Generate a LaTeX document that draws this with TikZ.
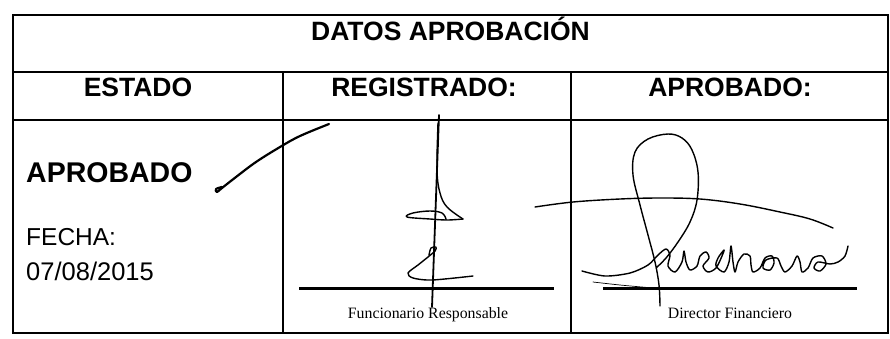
\documentclass[tikz,border=0pt]{standalone}
\usepackage{fontspec}
\setmainfont{Liberation Serif}
\newfontfamily\arialfont{Liberation Sans}
\newfontfamily\timesfont{Liberation Serif}
\usetikzlibrary{positioning}

\begin{document}
\begin{tikzpicture}[
		x=1pt, y=-1pt,
		grille/.style={line width=2.6pt},
		titre/.style={font=\arialfont\bfseries\fontsize{26.5}{30}\selectfont, inner sep=0pt, anchor=base},
		texte/.style={font=\arialfont\fontsize{24.5}{28}\selectfont, inner sep=0pt, anchor=base west},
		pied/.style={font=\timesfont\fontsize{15.8}{18}\selectfont, inner sep=0pt, anchor=base},
		ligne/.style={line width=3pt},
		firma/.style={line width=1.4pt, line cap=round, line join=round}
		]
		\useasboundingbox (0,0) rectangle (890,338);
	
		% --- Tableau ---
		\draw[grille] (13,15) rectangle (888,333);
		\draw[grille] (13,72) -- (888,72);
		\draw[grille] (13,120) -- (888,120);
		\draw[grille] (283,72) -- (283,333);
		\draw[grille] (571,72) -- (571,333);
	
		% --- En-tetes ---
		\node[titre] (datos) at (450.5,40) {DATOS APROBACIÓN};
		\node[titre] (estado) at (138,96) {ESTADO};
		\node[titre] (registrado) at (424,96) {REGISTRADO:};
		\node[titre] (aprobado) at (730,96) {APROBADO:};
	
		% --- Premiere colonne ---
		\node[titre, anchor=base west, font=\arialfont\bfseries\fontsize{28.5}{32}\selectfont] (estadoval) at (26,182) {APROBADO};
		\node[texte] (fecha) at (26,245) {FECHA:};
		\node[texte, font=\arialfont\fontsize{25.5}{28}\selectfont] (fechaval) at (26,280) {07/08/2015};
	
		% Lignes de signature
		\coordinate (regA) at (299,288);
		\coordinate (regB) at (554,288);
		\coordinate (aprA) at (603,288);
		\coordinate (aprB) at (857,288);
		\draw[ligne] (regA) -- (regB);
		\draw[ligne] (aprA) -- (aprB);
		\node[pied] (funcionario) at (428,318) {Funcionario Responsable};
		\node[pied] (director) at (730,318) {Director Financiero};
	
		% --- Signatures ---
		\draw[firma, line width=2.2pt] plot[smooth, tension=0.6] coordinates {(329,124) (300,136) (280,147) (256,162) (236,177) (222,188) (217,192) (216,189) (222,187)};
	
		\draw[firma, line width=1.8pt] (439,115) -- (432,307);
		\draw[firma] plot[smooth, tension=0.6] coordinates {(438,123) (437,170) (440,193) (447,207) (463,219)};
		\draw[firma] plot[smooth, tension=0.6] coordinates {(463,219) (447,220) (430,219) (407,217) (413,213) (430,211) (442,213) (446,219)};
		\draw[firma] plot[smooth, tension=0.5] coordinates {(429,255) (431,248) (436,247) (435,251) (428,257) (418,265) (408,273) (413,278) (432,280) (473,276)};
	
		\draw[firma] plot[smooth, tension=0.6] coordinates {(535,207) (573,202) (620,199) (660,198) (700,199) (740,204) (780,212) (810,219) (833,228)};
		\draw[firma] plot[smooth, tension=0.6] coordinates {(660,306) (659,285) (655,262) (648,235) (640,205) (633,175) (635,152) (648,139) (668,134) (682,138) (692,150) (698,172) (697,200) (690,222) (678,242) (666,258) (656,268)};
		\draw[firma] plot[smooth, tension=0.5] coordinates {(582,271) (605,276) (630,273) (648,265) (658,255) (666,249) (670,255) (668,266) (675,272) (682,262) (684,251) (686,262) (690,270) (697,266) (700,256) (706,252) (709,258) (703,266) (708,272) (716,268) (722,256) (724,250) (718,258) (716,266) (724,272) (729,262) (731,246) (733,262) (735,272) (738,262) (744,254) (750,256) (751,265) (753,272) (760,268) (765,258) (772,256) (774,263) (770,270) (763,268) (766,260) (777,258) (781,266) (785,272) (792,266) (797,256) (800,262) (802,272) (808,268) (813,258) (822,256) (826,264) (820,271) (814,268) (818,262) (830,264) (838,262) (845,256) (848,246)};
		\draw[firma, line width=0.7pt] plot[smooth] coordinates {(593,282) (620,285) (653,288)};
	
	\end{tikzpicture}
\end{document}
